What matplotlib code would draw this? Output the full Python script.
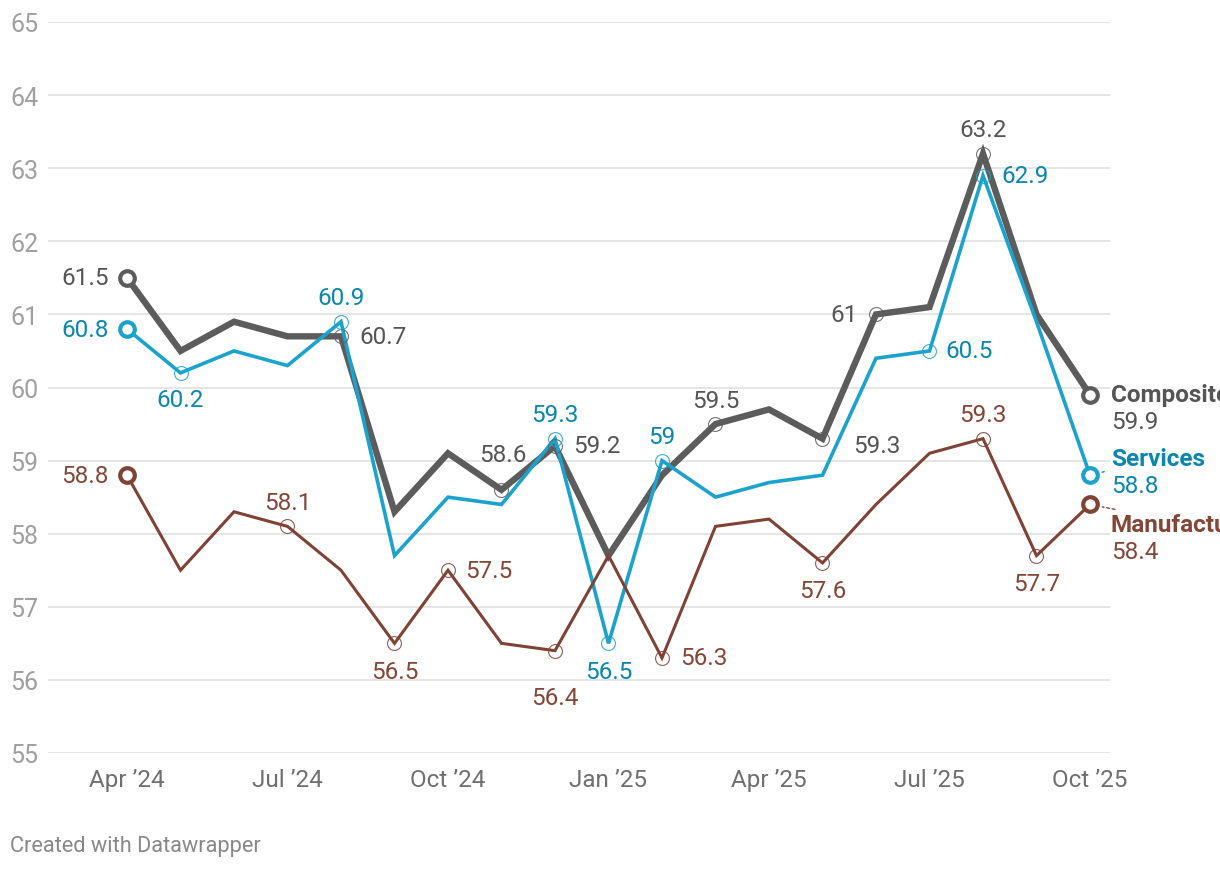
import matplotlib
import matplotlib.pyplot as plt

matplotlib.use("Agg", force=True)

plt.rcParams["font.family"] = ["Roboto", "DejaVu Sans"]

months = [
    "Apr ’24", "May ’24", "Jun ’24", "Jul ’24", "Aug ’24", "Sep ’24", "Oct ’24",
    "Nov ’24", "Dec ’24", "Jan ’25", "Feb ’25", "Mar ’25", "Apr ’25", "May ’25",
    "Jun ’25", "Jul ’25", "Aug ’25", "Sep ’25", "Oct ’25",
]
composite = [61.5, 60.5, 60.9, 60.7, 60.7, 58.3, 59.1, 58.6, 59.2, 57.7,
             58.8, 59.5, 59.7, 59.3, 61.0, 61.1, 63.2, 61.0, 59.9]
services = [60.8, 60.2, 60.5, 60.3, 60.9, 57.7, 58.5, 58.4, 59.3, 56.5,
            59.0, 58.5, 58.7, 58.8, 60.4, 60.5, 62.9, 60.9, 58.8]
manufacturing = [58.8, 57.5, 58.3, 58.1, 57.5, 56.5, 57.5, 56.5, 56.4, 57.7,
                 56.3, 58.1, 58.2, 57.6, 58.4, 59.1, 59.3, 57.7, 58.4]
x_ticks = [0, 3, 6, 9, 12, 15, 18]
y_ticks = list(range(55, 66))

FS = 17.5

# labelled points: index -> placement (offset in pixels, ha)
R = ((18, 0), "left")
L = ((-18, 0), "right")
A = ((0, 24), "center")
B = ((0, -27), "center")
SERIES = [
    # name, values, line colour, text colour, width, labels, end label offset
    ("Composite", composite, "#5c5c5c", "#555555", 4.6,
     {4: R, 7: ((1, 35), "center"), 8: R, 11: A, 13: ((31, -7), "left"),
      14: L, 16: A}, 0),
    ("Services", services, "#1ba2cd", "#0a86b0", 2.6,
     {1: B, 4: A, 8: A, 9: ((0, -28), "center"), 10: A, 15: ((16, 0), "left"),
      16: R}, 17),
    ("Manufacturing", manufacturing, "#7f4234", "#864636", 2.2,
     {3: A, 5: ((0, -28), "center"), 6: ((17, 0), "left"),
      8: ((0, -47), "center"), 10: R, 13: ((0, -28), "center"), 16: A,
      17: ((0, -28), "center")}, -20),
]

fig = plt.figure(figsize=(12.2, 8.7), dpi=100)
ax = fig.add_axes([48 / 1220, 116 / 870, 1062 / 1220, 731 / 870])
ax.set_xlim(-79 / 53.5, 18 + 20 / 53.5)
ax.set_ylim(55, 65)

for sp in ax.spines.values():
    sp.set_visible(False)
ax.set_yticks(y_ticks)
ax.set_yticklabels([str(v) for v in y_ticks])
ax.set_xticks(x_ticks)
ax.set_xticklabels([months[i] for i in x_ticks])
ax.tick_params(axis="y", length=0, pad=7, labelsize=18, labelcolor="#a0a0a0")
ax.tick_params(axis="x", length=0, pad=11, labelsize=17.5, labelcolor="#6f6f6f")
ax.grid(axis="y", color="#e3e3e3", linewidth=1.3)
ax.set_axisbelow(True)

xs = list(range(len(months)))
last = len(months) - 1
for name, vals, lc, tc, lw, labels, end_dy in SERIES:
    ax.plot(xs, vals, color=lc, linewidth=lw, solid_joinstyle="miter", zorder=3)
    for i, ((dx, dy), ha) in labels.items():
        ax.plot(xs[i], vals[i], "o", ms=10, mfc="none", mec=lc, mew=0.8,
                zorder=4, alpha=0.85)
        ax.annotate(f"{vals[i]:g}", (xs[i], vals[i]), xytext=(dx, dy),
                    textcoords="offset pixels", ha=ha, va="center",
                    fontsize=FS, color=tc, zorder=5)
    # start point
    ax.plot(xs[0], vals[0], "o", ms=10.5, mfc="white", mec=lc, mew=3, zorder=6)
    ax.annotate(f"{vals[0]:g}", (xs[0], vals[0]), xytext=(-18, 0),
                textcoords="offset pixels", ha="right", va="center",
                fontsize=FS, color=tc)
    # end point with name
    ax.plot(xs[last], vals[last], "o", ms=10.5, mfc="white", mec=lc, mew=3,
            zorder=6, clip_on=False)
    ax.annotate(name, (xs[last], vals[last]), xytext=(21, end_dy),
                textcoords="offset pixels", ha="left", va="center",
                fontsize=FS, fontweight="bold", color=tc,
                annotation_clip=False,
                arrowprops=None if end_dy == 0 else dict(
                    arrowstyle="-", color=tc, lw=1, ls=(0, (2, 2)),
                    shrinkA=3, shrinkB=9))
    ax.annotate(f"{vals[last]:g}", (xs[last], vals[last]),
                xytext=(21, end_dy - 27), textcoords="offset pixels",
                ha="left", va="center", fontsize=FS, color=tc,
                annotation_clip=False)

fig.text(10 / 1220, 1 - 847 / 870, "Created with Datawrapper", fontsize=15.7,
         color="#888888", ha="left", va="center")

fig.savefig("out.png", dpi=100)
